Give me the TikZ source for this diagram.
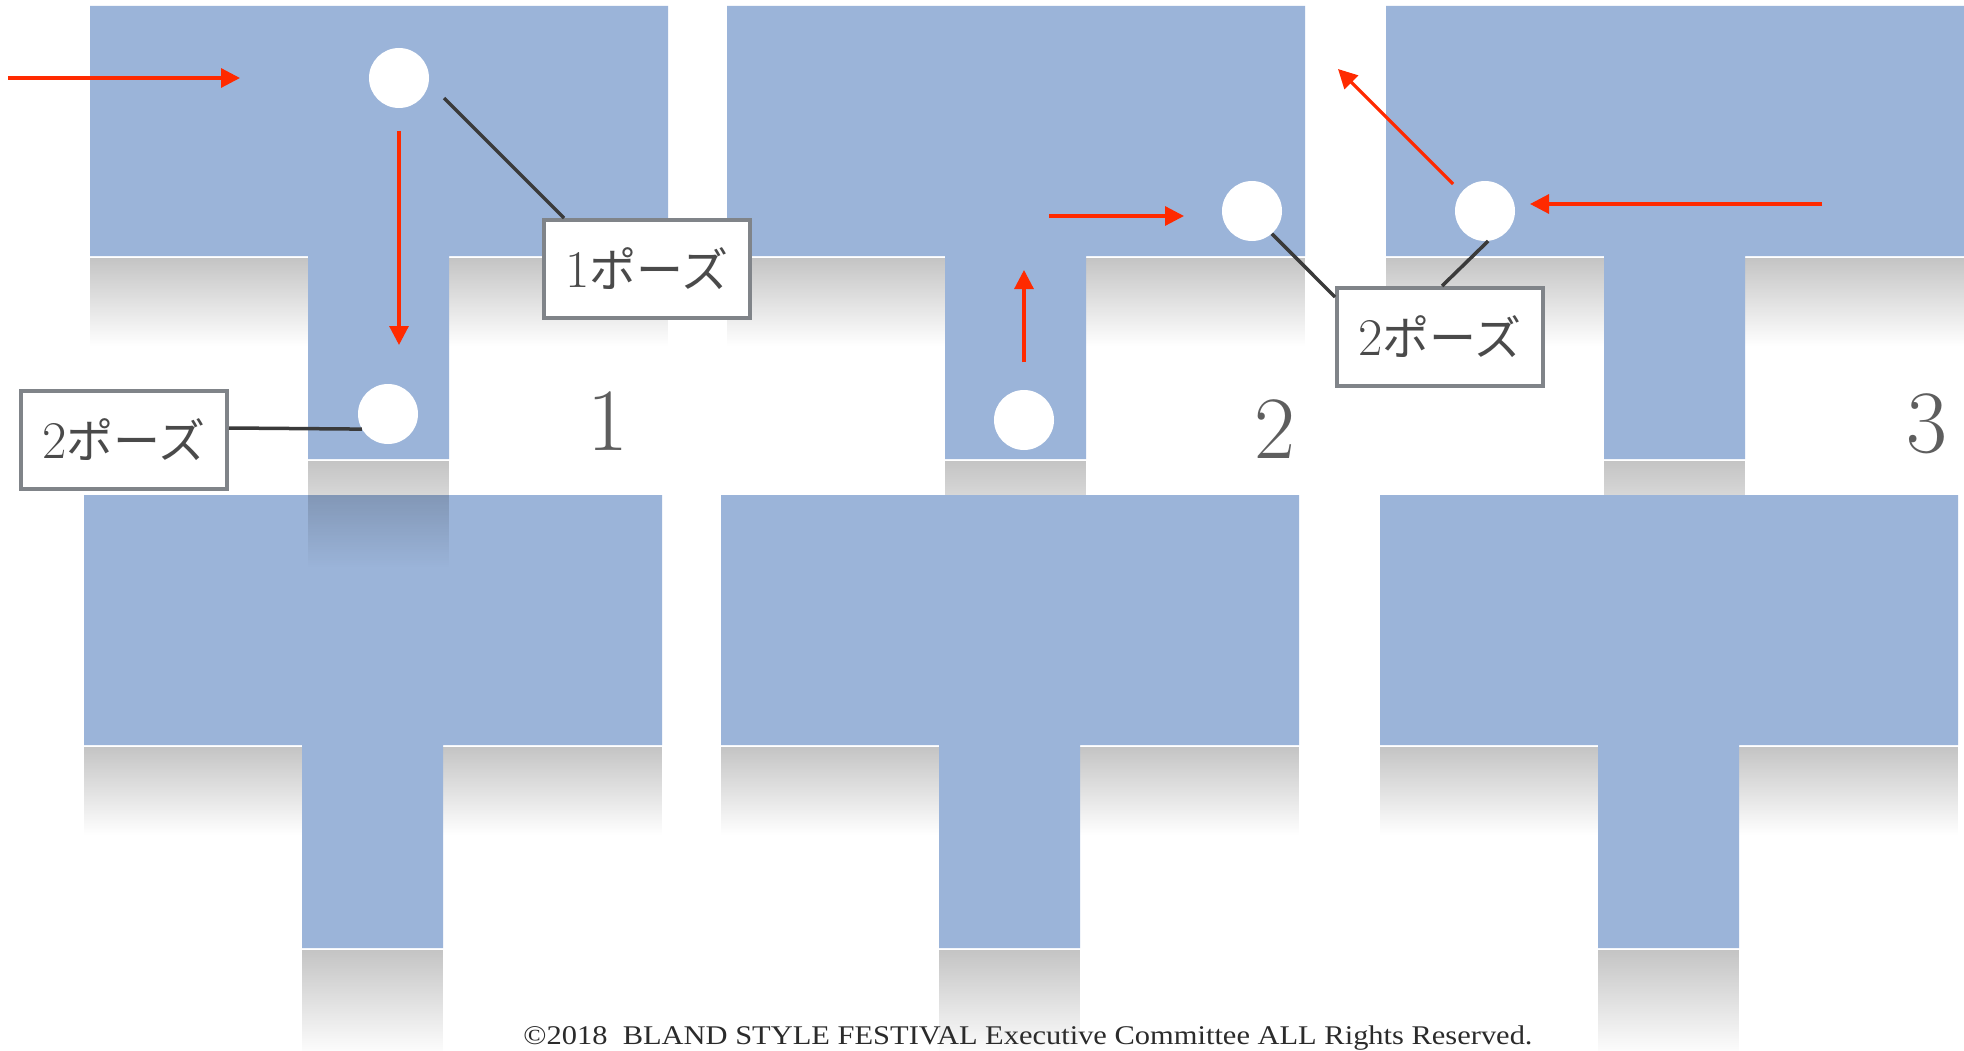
\documentclass[tikz,border=0pt]{standalone}
\usepackage{fontspec}
\newfontfamily\jpfont{Noto Sans CJK JP}
\newfontfamily\footfont{Liberation Serif}
\usetikzlibrary{arrows.meta,fadings,calc}
\definecolor{tblue}{HTML}{9BB4D9}
\definecolor{redarrow}{HTML}{FF2A00}
\definecolor{linegray}{HTML}{3A3A3A}
\definecolor{boxborder}{HTML}{808489}
\definecolor{txtgray}{HTML}{4A4A4A}
\definecolor{numgray}{HTML}{5E5E5E}
\definecolor{footgray}{HTML}{2B2B2B}
\tikzfading[name=fadedown, top color=transparent!0, bottom color=transparent!100]
\tikzset{
  shadowfill/.style={fill=black, fill opacity=0.23, path fading=fadedown},
  dot/.style={circle, fill=white, minimum size=60pt, inner sep=0pt},
  pbox/.style={draw=boxborder, line width=4pt, fill=white, minimum width=206pt, minimum height=98pt, inner sep=0pt, text=txtgray},
  numlabel/.style={text=numgray, font=\fontsize{89}{89}\selectfont, inner sep=0pt, anchor=base},
  redarr/.style={draw=redarrow, line width=3.2pt, -{Triangle[length=19pt,width=19pt]}},
  leader/.style={draw=linegray, line width=3.5pt},
}
\newcommand\tshape[2]{%
  \fill[tblue] (#1,#2) -- ++(578,0) -- ++(0,250) -- ++(-219,0) -- ++(0,203) -- ++(-141,0) -- ++(0,-203) -- ++(-218,0) -- cycle;}
\newcommand\tcross[2]{%
  \fill[shadowfill] (#1,#2+252) rectangle ++(218,88);
  \fill[shadowfill] (#1+359,#2+252) rectangle ++(219,88);}
\newcommand\tstem[2]{%
  \fill[shadowfill] (#1+218,#2+455) rectangle ++(141,106);}
\newcommand\posetext[1]{{\fontsize{53}{53}\selectfont #1}{\jpfont\fontsize{47}{47}\selectfont ポーズ}}
\begin{document}
\begin{tikzpicture}[x=1pt,y=-1pt]
\useasboundingbox (0,0) rectangle (1964,1051);
\fill[white] (0,0) rectangle (1964,1051);
% shadows behind
\tcross{90}{6}\tcross{727}{6}\tcross{1386}{6}
\tcross{84}{495}\tcross{721}{495}\tcross{1380}{495}
\tstem{727}{6}\tstem{1386}{6}
\tstem{84}{495}\tstem{721}{495}\tstem{1380}{495}
% T shapes
\tshape{84}{495}\tshape{721}{495}\tshape{1380}{495}
\tshape{90}{6}\tshape{727}{6}\tshape{1386}{6}
% overlay shadow of first stem
\tstem{90}{6}
% circles
\node[dot] (c1a) at (399,78) {};
\node[dot] (c1b) at (388,414) {};
\node[dot] (c2a) at (1252,211) {};
\node[dot] (c2b) at (1024,420) {};
\node[dot] (c3) at (1485,211) {};
% boxes
\node[pbox] (box1) at (647,269) {\posetext{1}};
\node[pbox] (box2) at (124,440) {\posetext{2}};
\node[pbox] (boxm) at (1440,337) {\posetext{2}};
% leader lines
\coordinate (l1s) at (444,98);
\draw[leader] (l1s) -- ([xshift=22pt]box1.north west);
\draw[leader] ([yshift=12pt]box2.east) -- (c1b.210);
\draw[leader] (c2a.311) -- ([yshift=-11pt]boxm.north west);
\draw[leader] (c3.276) -- ([xshift=107pt]boxm.north west);
% red arrows
\coordinate (a1s) at (8,78);    \coordinate (a1e) at (240,78);
\coordinate (a2s) at (399,131); \coordinate (a2e) at (399,345);
\coordinate (a3s) at (1049,216);\coordinate (a3e) at (1184,216);
\coordinate (a4s) at (1024,362);\coordinate (a4e) at (1024,270);
\coordinate (a5s) at (1453,184);\coordinate (a5e) at (1338,69);
\coordinate (a6s) at (1822,204);\coordinate (a6e) at (1530,204);
\draw[redarr] (a1s) -- (a1e);
\draw[redarr] (a2s) -- (a2e);
\draw[redarr] (a3s) -- (a3e);
\draw[redarr] (a4s) -- (a4e);
\draw[redarr] (a5s) -- (a5e);
\draw[redarr] (a6s) -- (a6e);
% numbers
\node[numlabel] (n1) at (608,450) {1};
\node[numlabel] (n2) at (1275,458) {2};
\node[numlabel] (n3) at (1927,452) {3};
% footer
\node[anchor=base, inner sep=0pt, text=footgray] (foot) at (1028,1044) {\resizebox{1009pt}{\height}{\footfont\fontsize{27}{27}\selectfont ©2018\ \ BLAND STYLE FESTIVAL Executive Committee ALL Rights Reserved.}};
\end{tikzpicture}
\end{document}
